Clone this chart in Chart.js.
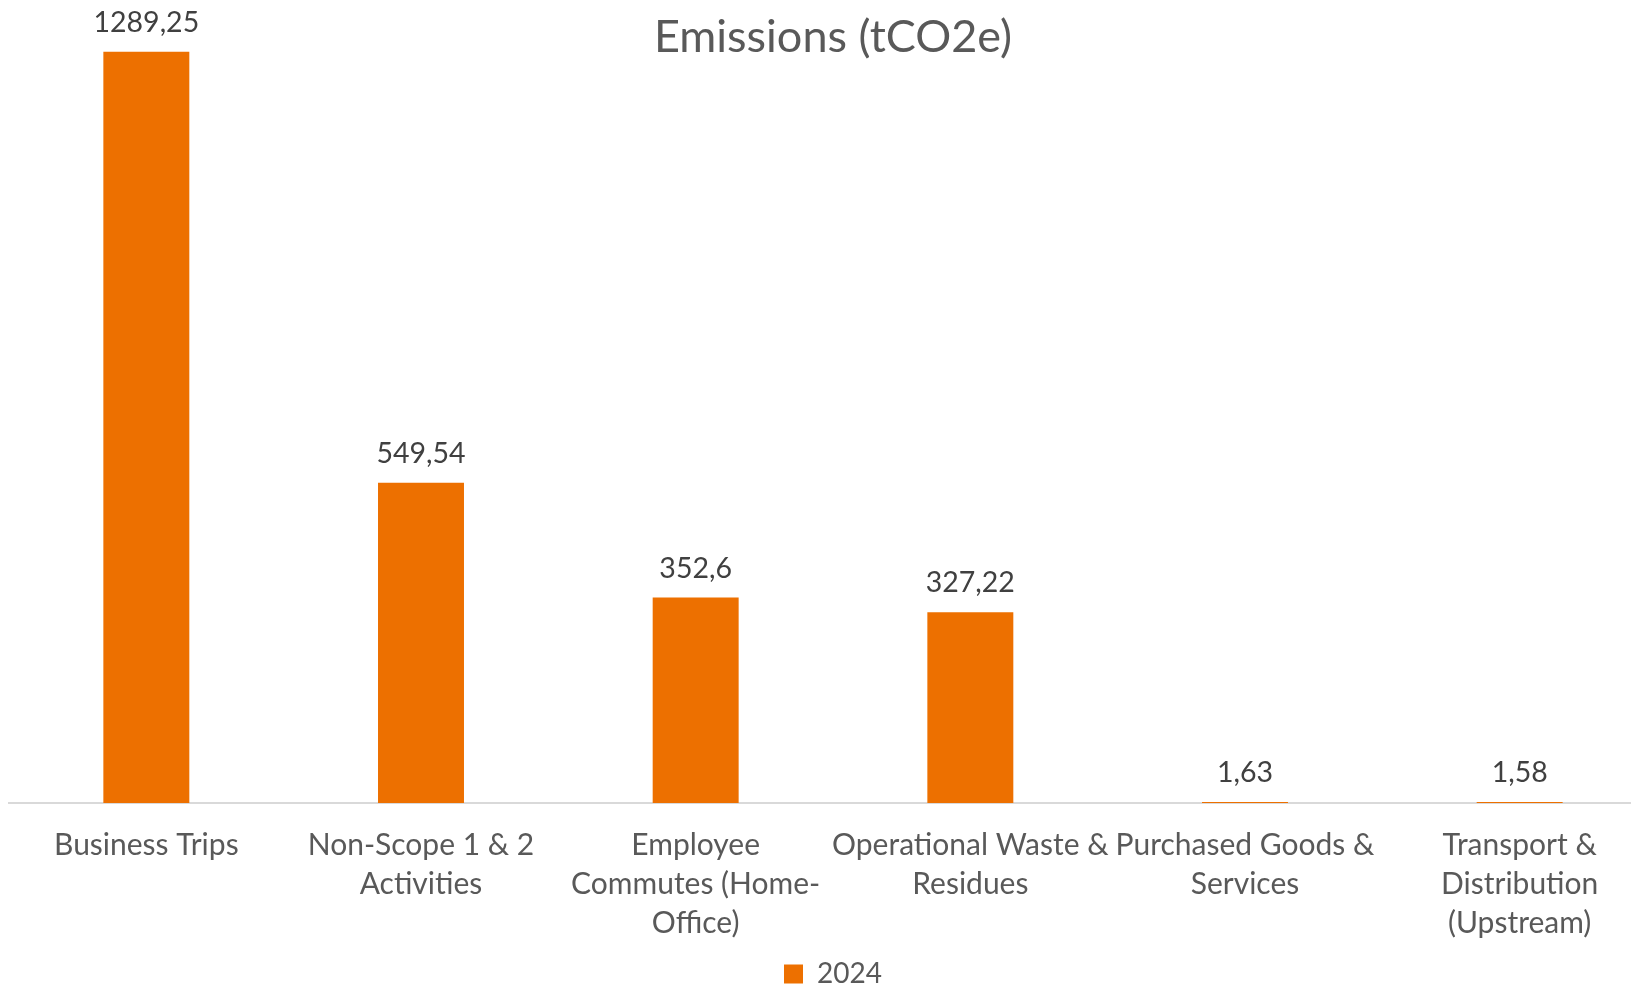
<!DOCTYPE html>
<html>
<head>
<meta charset="utf-8">
<script src="https://cdn.jsdelivr.net/npm/chart.js@4/dist/chart.umd.min.js"></script>
<style>
  html, body { margin: 0; padding: 0; background: #fff; overflow: hidden; }
  #wrap { width: 1631px; height: 988px; overflow: hidden; position: relative; }
  canvas { display: block; }
</style>
</head>
<body>
<div id="wrap">
  <canvas id="emissionsChart" width="1660" height="988" style="width:1660px;height:988px"></canvas>
</div>
<script>
// Data
const categories = [
  ['Business Trips'],
  ['Non-Scope 1 & 2', 'Activities'],
  ['Employee', 'Commutes (Home-', 'Office)'],
  ['Operational Waste &', 'Residues'],
  ['Purchased Goods &', 'Services'],
  ['Transport &', 'Distribution', '(Upstream)']
];
const seriesName = '2024';
const emissions2024 = [1289.25, 549.54, 352.6, 327.22, 1.63, 1.58];
const valueLabels = ['1289,25', '549,54', '352,6', '327,22', '1,63', '1,58'];

const FONT = 'Lato, "Open Sans", sans-serif';

// bar value labels, drawn above each bar
const barLabels = {
  id: 'barLabels',
  afterDatasetsDraw(chart) {
    const ctx = chart.ctx;
    const meta = chart.getDatasetMeta(0);
    ctx.save();
    ctx.font = '28.5px ' + FONT;
    ctx.fillStyle = '#404040';
    ctx.textAlign = 'center';
    ctx.textBaseline = 'alphabetic';
    meta.data.forEach((bar, i) => {
      ctx.fillText(valueLabels[i], bar.x, bar.y - 20);
    });
    ctx.restore();
  }
};

// chart title sits over the plot area, like the original
const overlayTitle = {
  id: 'overlayTitle',
  afterDraw(chart) {
    const ctx = chart.ctx;
    const area = chart.chartArea;
    ctx.save();
    ctx.font = '45px ' + FONT;
    ctx.fillStyle = '#595959';
    ctx.textAlign = 'center';
    ctx.textBaseline = 'middle';
    ctx.fillText('Emissions (tCO2e)', (area.left + area.right) / 2, 37);
    ctx.restore();
  }
};

const ctx = document.getElementById('emissionsChart').getContext('2d');

new Chart(ctx, {
  type: 'bar',
  data: {
    labels: categories,
    datasets: [{
      label: seriesName,
      data: emissions2024,
      backgroundColor: '#ed7000',
      borderWidth: 0,
      categoryPercentage: 1,
      barPercentage: 0.313
    }]
  },
  options: {
    responsive: false,
    animation: false,
    layout: { padding: { left: 9, right: 3, top: 0, bottom: -10 } },
    scales: {
      x: {
        grid: { display: false, drawTicks: false },
        border: { display: true, color: '#d9d9d9', width: 2 },
        ticks: {
          color: '#595959',
          padding: 23,
          maxRotation: 0,
          autoSkip: false,
          font: { family: FONT, size: 30, lineHeight: 1.3 }
        },
        afterFit: (scale) => { scale.height = 157; }
      },
      y: {
        display: false,
        min: 0,
        max: 1378
      }
    },
    plugins: {
      legend: {
        position: 'bottom',
        labels: {
          color: '#595959',
          boxWidth: 19,
          boxHeight: 19,
          padding: 0,
          font: { family: FONT, size: 28 }
        }
      },
      tooltip: { enabled: false }
    }
  },
  plugins: [barLabels, overlayTitle]
});
</script>
</body>
</html>
